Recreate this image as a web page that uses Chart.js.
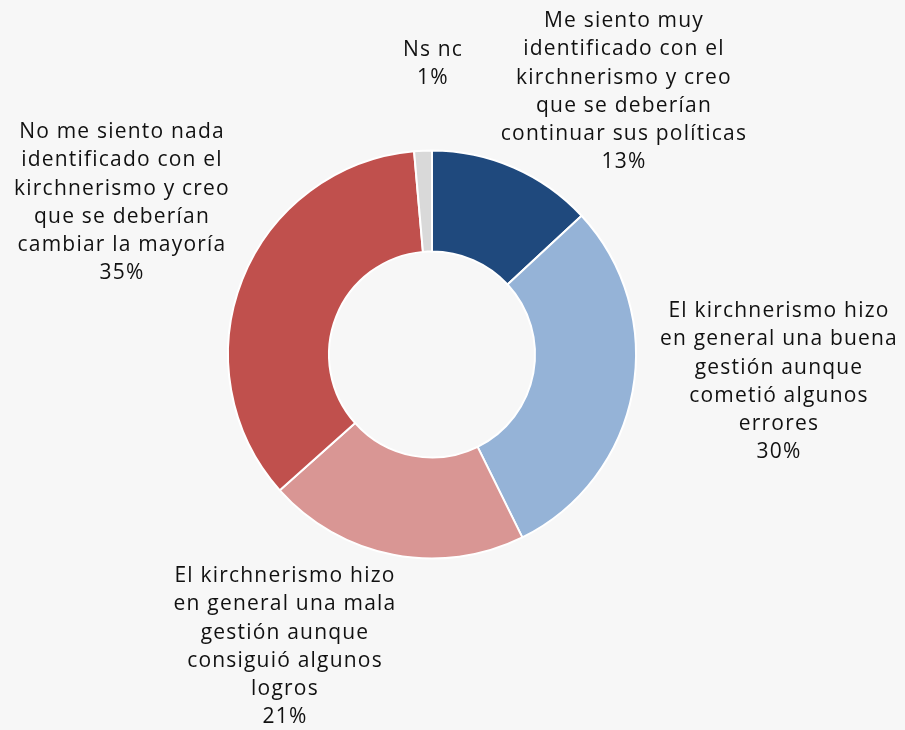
<!DOCTYPE html>
<html>
<head>
<meta charset="utf-8">
<script src="https://cdn.jsdelivr.net/npm/chart.js@4.4.0/dist/chart.umd.min.js"></script>
<style>
    body { margin: 0; background: #f7f7f7; }
    #wrap { width: 905px; height: 730px; }
</style>
</head>
<body>
<div id="wrap"><canvas id="myChart" width="905" height="730"></canvas></div>
<script>
// categories (label lines) and values, clockwise from the top
const categories = [
    ['Me siento muy', 'identificado con el', 'kirchnerismo y creo', 'que se deberían', 'continuar sus políticas'],
    ['El kirchnerismo hizo', 'en general una buena', 'gestión aunque', 'cometió algunos', 'errores'],
    ['El kirchnerismo hizo', 'en general una mala', 'gestión aunque', 'consiguió algunos', 'logros'],
    ['No me siento nada', 'identificado con el', 'kirchnerismo y creo', 'que se deberían', 'cambiar la mayoría'],
    ['Ns nc']
];
const values = [13.1, 29.6, 20.7, 35.2, 1.4];
const pctLabels = ['13%', '30%', '21%', '35%', '1%'];
const colors = ['#1f497d', '#95b3d7', '#d99694', '#c0504d', '#d9d9d9'];

// where each label block sits (center x, first line y)
const labelPos = [
    [624, 21], [779, 311], [285, 576], [122, 132], [433, 50]
];

const outsideLabels = {
    id: 'outsideLabels',
    afterDraw(chart) {
        const ctx = chart.ctx;
        ctx.save();
        ctx.fillStyle = '#111111';
        ctx.font = '21px "Open Sans"';
        ctx.letterSpacing = '1.2px';
        ctx.textAlign = 'center';
        ctx.textBaseline = 'middle';
        categories.forEach(function (lines, i) {
            let all = lines.concat([pctLabels[i]]);
            all.forEach(function (t, j) {
                ctx.fillText(t, labelPos[i][0], labelPos[i][1] + j * 28.3);
            });
        });
        ctx.restore();
    }
};

const ctx = document.getElementById('myChart');
new Chart(ctx, {
    type: 'doughnut',
    data: {
        labels: categories.map(c => c.join(' ')),
        datasets: [{
            data: values,
            backgroundColor: colors,
            borderColor: '#ffffff',
            borderWidth: 2
        }]
    },
    options: {
        responsive: false,
        animation: false,
        radius: 204,
        cutout: '50.5%',
        layout: { padding: { left: 0, right: 41, top: 0, bottom: 21 } },
        plugins: {
            legend: { display: false },
            tooltip: { enabled: false }
        }
    },
    plugins: [outsideLabels]
});
</script>
</body>
</html>
